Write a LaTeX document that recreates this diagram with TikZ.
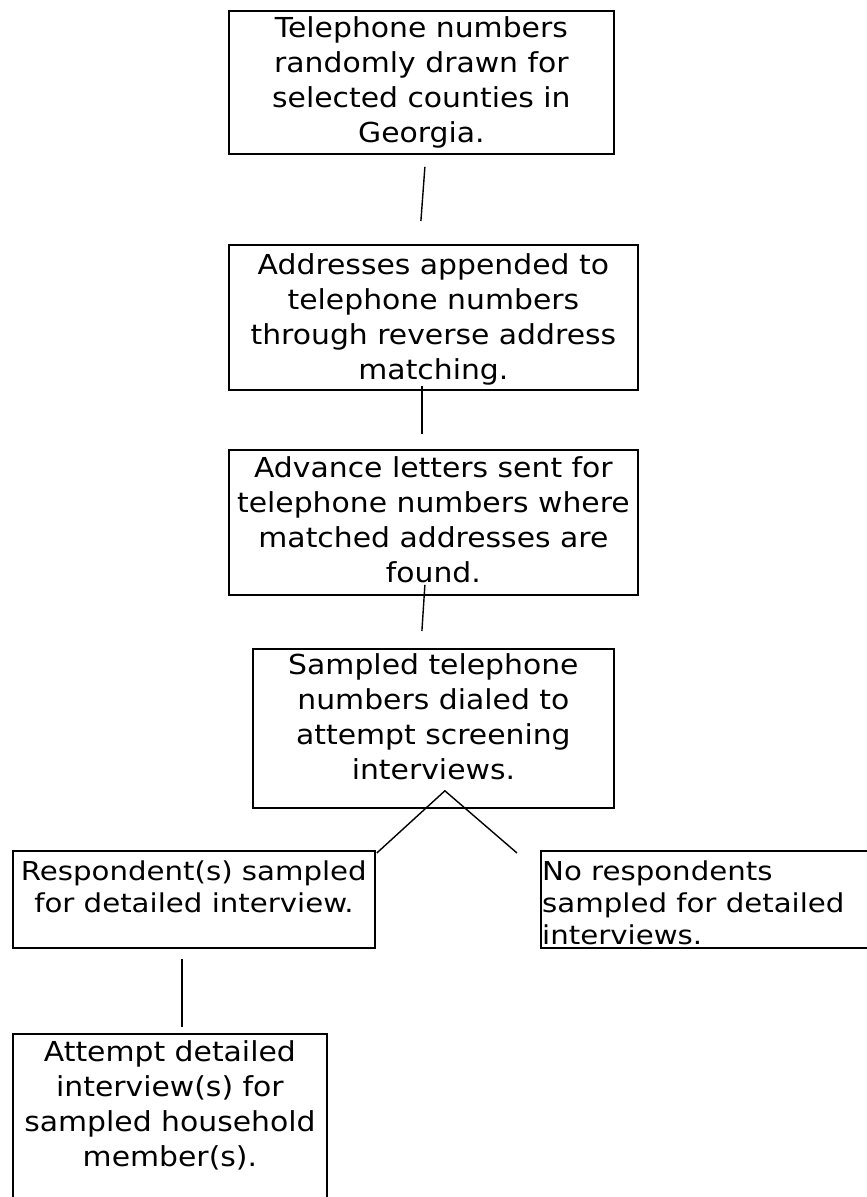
\documentclass[tikz,border=0pt]{standalone}
\usepackage{fontspec}
\setmainfont[FakeStretch=1.085]{DejaVu Sans}
\newfontfamily\narrowfont[FakeStretch=1.25]{DejaVu Sans Condensed}
\usetikzlibrary{calc}
\begin{document}
\begin{tikzpicture}[x=1pt,y=-1pt,
  stepbox/.style={draw, line width=1.8pt, inner sep=0pt, anchor=north west},
  boxtext/.style={anchor=north, inner sep=0pt, align=center, font=\fontsize{27.5}{35}\selectfont},
  narrowtext/.style={inner sep=0pt, font=\narrowfont\fontsize{26}{32}\selectfont},
  link/.style={line width=1.4pt}]
\useasboundingbox (0,0) rectangle (867,1197);
\fill[white] (0,0) rectangle (867,1197);
\begin{scope}
\clip (0,0) rectangle (867,1197);
% boxes
\node[stepbox, minimum width=385pt, minimum height=143pt] (b1) at (228,10) {};
\node[stepbox, minimum width=409pt, minimum height=145pt] (b2) at (228,244) {};
\node[stepbox, minimum width=409pt, minimum height=145pt] (b3) at (228,449) {};
\node[stepbox, minimum width=361pt, minimum height=159pt] (b4) at (252,648) {};
\node[stepbox, minimum width=362pt, minimum height=97pt] (b5) at (12,850) {};
\node[stepbox, minimum width=340pt, minimum height=97pt] (b6) at (540,850) {};
\node[stepbox, minimum width=314pt, minimum height=180pt] (b7) at (12,1033) {};
% texts
\node[boxtext] (t1) at ($(b1.north)+(0,2.5)$) {\strut Telephone numbers\\randomly drawn for\\selected counties in\\Georgia.};
\node[boxtext] (t2) at ($(b2.north)+(0,5.5)$) {\strut Addresses appended to\\telephone numbers\\through reverse address\\matching.};
\node[boxtext] (t3) at ($(b3.north)+(0,3.5)$) {\strut Advance letters sent for\\telephone numbers where\\matched addresses are\\found.};
\node[boxtext] (t4) at ($(b4.north)+(0,1.5)$) {\strut Sampled telephone\\numbers dialed to\\attempt screening\\interviews.};
\node[narrowtext, anchor=north, align=center] (t5) at ($(b5.north)+(0,7.6)$) {\strut Respondent(s) sampled\\for detailed interview.};
\node[narrowtext, anchor=north west, align=left] (t6) at ($(b6.north west)+(2,7.6)$) {\strut No respondents\\sampled for detailed\\interviews.};
\node[boxtext] (t7) at ($(b7.north)+(0,3.5)$) {\strut Attempt detailed\\interview(s) for\\sampled household\\member(s).};
% connectors
\draw[link] ($(b1.south)+(3.5,12)$) -- ($(b2.north)+(-12.5,-23)$);
\draw[link] ($(b2.south)+(-11.5,-5)$) -- ($(b3.north)+(-11.5,-15)$);
\draw[link] ($(b3.south)+(-8.5,-11)$) -- ($(b4.north)+(-11.5,-17)$);
\coordinate (split) at ($(b4.south)+(11.5,-18)$);
\draw[link] ($(b5.north east)+(1,3)$) -- (split) -- ($(b6.north west)+(-23,3)$);
\draw[link] ($(b5.south)+(-12,10)$) -- ($(b7.north)+(12,-6)$);
\end{scope}
\end{tikzpicture}
\end{document}
